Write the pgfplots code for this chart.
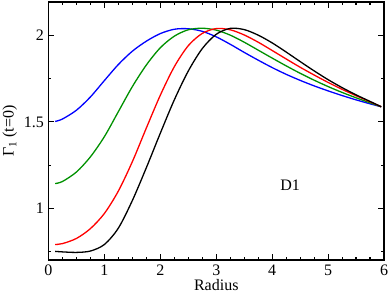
\documentclass[border=0pt]{standalone}
\usepackage{fontspec}
\setmainfont{Liberation Serif}
\usepackage{pgfplots}
\pgfplotsset{compat=1.18}
\definecolor{cgreen}{RGB}{0,145,0}
\begin{document}
\fontsize{16}{19}\selectfont
\begin{tikzpicture}
\begin{axis}[
  name=ax,
  scale only axis,
  width=335.5pt, height=258pt,
  xmin=0, xmax=6, ymin=0.7, ymax=2.195,
  xtick={0,1,2,3,4,5,6},
  ytick={1,1.5,2},
  yticklabels={1,1.5,2},
  minor x tick num=3,
  minor ytick={0.75,1.25,1.75},
  tick align=inside,
  major tick length=6pt,
  minor tick length=3pt,
  every tick/.style={black, line width=1.1pt},
  axis line style={line width=1.2pt},
  tick label style={font=\fontsize{16}{19}\selectfont},
  /pgf/number format/assume math mode=true,
  xticklabel style={yshift=1pt},
  yticklabel style={xshift=1pt},
  xlabel={Radius},
  ylabel={Γ\textsubscript{1} (t=0)},
  label style={font=\fontsize{16}{19}\selectfont},
  xlabel style={yshift=7pt},
  ylabel style={yshift=-4pt},
  clip=false,
]
\addplot[blue, line width=1.3pt, smooth] coordinates {
(0.12,1.503)(0.25,1.517)(0.5,1.568)(0.75,1.645)(1.0,1.740)(1.25,1.833)(1.5,1.910)(1.75,1.968)(2.0,2.012)(2.25,2.037)(2.5,2.040)(2.75,2.025)(3.0,1.993)(3.25,1.950)(3.5,1.903)(3.75,1.858)(4.0,1.815)(4.25,1.776)(4.5,1.741)(4.75,1.709)(5.0,1.680)(5.25,1.653)(5.5,1.628)(5.75,1.605)(5.95,1.588)
};
\addplot[cgreen, line width=1.3pt, smooth] coordinates {
(0.12,1.143)(0.25,1.155)(0.5,1.210)(0.75,1.298)(1.0,1.415)(1.25,1.560)(1.5,1.705)(1.75,1.830)(2.0,1.930)(2.25,1.997)(2.5,2.034)(2.75,2.043)(3.0,2.032)(3.25,2.003)(3.5,1.962)(3.75,1.916)(4.0,1.870)(4.25,1.825)(4.5,1.782)(4.75,1.742)(5.0,1.705)(5.25,1.671)(5.5,1.640)(5.75,1.611)(5.95,1.588)
};
\addplot[red, line width=1.3pt, smooth] coordinates {
(0.12,0.790)(0.25,0.795)(0.5,0.825)(0.75,0.882)(1.0,0.970)(1.25,1.100)(1.5,1.270)(1.75,1.465)(2.0,1.655)(2.25,1.820)(2.5,1.942)(2.75,2.013)(3.0,2.041)(3.25,2.034)(3.5,2.004)(3.75,1.962)(4.0,1.914)(4.25,1.865)(4.5,1.817)(4.75,1.772)(5.0,1.729)(5.25,1.689)(5.5,1.652)(5.75,1.617)(5.95,1.588)
};
\addplot[black, line width=1.3pt, smooth] coordinates {
(0.12,0.750)(0.25,0.747)(0.5,0.744)(0.75,0.752)(1.0,0.790)(1.25,0.885)(1.5,1.045)(1.75,1.235)(2.0,1.435)(2.25,1.628)(2.5,1.795)(2.75,1.925)(3.0,2.008)(3.25,2.042)(3.5,2.035)(3.75,2.003)(4.0,1.958)(4.25,1.905)(4.5,1.850)(4.75,1.796)(5.0,1.745)(5.25,1.699)(5.5,1.657)(5.75,1.619)(5.95,1.588)
};
\node[font=\fontsize{16}{19}\selectfont] at (axis cs:4.32,1.133) {D1};
\end{axis}
\pgfresetboundingbox
\path ([xshift=-48.5pt,yshift=-34pt]ax.south west) rectangle ([xshift=6pt,yshift=2pt]ax.north east);
\end{tikzpicture}
\end{document}
